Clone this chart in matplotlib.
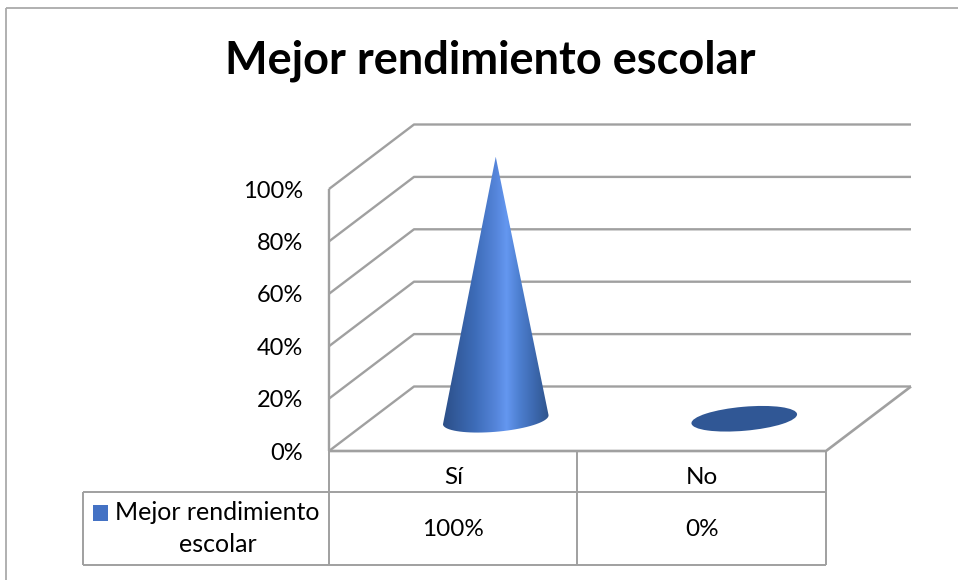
import matplotlib
matplotlib.use("Agg")
import matplotlib.pyplot as plt
import numpy as np
from matplotlib.colors import LinearSegmentedColormap
from matplotlib.patches import Ellipse, Polygon

title = "Mejor rendimiento escolar"
series_name = "Mejor rendimiento\nescolar"
categories = ["Sí", "No"]
values = [100, 0]
value_labels = ["100%", "0%"]
ticks = [0, 20, 40, 60, 80, 100]
tick_labels = ["0%", "20%", "40%", "60%", "80%", "100%"]

grid_color = "#a0a0a0"
plt.rcParams["font.family"] = ["Lato", "DejaVu Sans"]

fig = plt.figure(figsize=(9.58, 5.8), dpi=100)
ax = fig.add_axes([0, 0, 1, 1])
ax.set_xlim(0, 958)
ax.set_ylim(580, 0)
ax.axis("off")

# plot box in pixels, front wall and how far the floor goes back
x0, x1 = 329, 826
y0 = 451
px_per_pct = 2.62
dx, dy = 85, -64.5


def proj(cat, val, depth=0.0):
    x = x0 + (x1 - x0) / len(categories) * cat + dx * depth
    y = y0 - val * px_per_pct + dy * depth
    return x, y


def line(xs, ys, lw=1.7, color=grid_color):
    ax.plot(xs, ys, color=color, lw=lw, solid_capstyle="butt")


# outer frame
line([6, 6], [580, 8], lw=1.3, color="#aaaaaa")
line([6, 958], [8, 8], lw=1.3, color="#aaaaaa")

# walls
for t, lab in zip(ticks, tick_labels):
    a = proj(0, t)
    b = proj(0, t, 1)
    c = proj(len(categories), t, 1)
    line([a[0], b[0], c[0]], [a[1], b[1], c[1]])
    ax.text(303, a[1] + 2, lab, ha="right", va="center", fontsize=17, color="black")
line([x0, x0], [proj(0, 0)[1], proj(0, 100)[1]])

# floor
a = proj(0, 0)
b = proj(2, 0)
c = proj(2, 0, 1)
line([a[0], b[0], c[0]], [a[1], b[1], c[1]], lw=1.9)

# cones
cone_cmap = LinearSegmentedColormap.from_list(
    "cone",
    [(0, "#2c4f88"), (0.3, "#3d6cb8"), (0.5, "#5585da"), (0.6, "#6497f0"),
     (0.72, "#4d7fd0"), (0.86, "#3d69b0"), (1, "#2f548c")],
)
for i, v in enumerate(values):
    cx, cy = proj(i + 0.5, 0, 0.5)
    tilt = -5
    rx, ry = 53, 12
    if v > 0:
        tipx, tipy = proj(i + 0.5, v, 0.5)
        th = np.radians(np.linspace(0, 180, 40))
        ex = rx * np.cos(th)
        ey = ry * np.sin(th)
        rot = np.radians(tilt)
        px = cx + ex * np.cos(rot) - ey * np.sin(rot)
        py = cy + 1 + ex * np.sin(rot) + ey * np.cos(rot)
        outline = Polygon(np.r_[[[tipx, tipy]], np.c_[px, py]], closed=True, fc="none", ec="none")
        ax.add_patch(outline)
        grad = np.linspace(0, 1, 256).reshape(1, -1)
        im = ax.imshow(grad, cmap=cone_cmap, aspect="auto",
                       extent=(cx - rx, cx + rx, cy + ry + 2, tipy), zorder=3)
        im.set_clip_path(outline)
        ax.set_xlim(0, 958)
        ax.set_ylim(580, 0)
    else:
        ax.add_patch(Ellipse((cx, cy), 2 * rx, 2 * ry, angle=tilt, fc="#305795", ec="none", zorder=3))

# data table under the plot
row0, row1, row2 = 451, 492, 565
tbl_left = 83
cell = (x1 - x0) / len(categories)
line([x0, x0], [row0, row2], lw=1.4)
line([x0 + cell, x0 + cell], [row0, row2], lw=1.4)
line([x1, x1], [row0, row2], lw=1.4)
line([tbl_left, x1], [row1, row1], lw=1.4)
line([tbl_left, x1], [row2, row2], lw=1.4)
line([tbl_left, tbl_left], [row1, row2], lw=1.4)
for i, (cat, lab) in enumerate(zip(categories, value_labels)):
    xc = x0 + cell * (i + 0.5)
    ax.text(xc, 477, cat, ha="center", va="center", fontsize=17.5, color="black")
    ax.text(xc, 530, lab, ha="center", va="center", fontsize=17.5, color="black")

# legend key and series name
ax.add_patch(Polygon([(93, 505), (108, 505), (108, 521), (93, 521)], closed=True, fc="#4472c4", ec="none"))
ax.text(217.5, 512, series_name.split("\n")[0], ha="center", va="center", fontsize=18, color="black")
ax.text(217.5, 545, series_name.split("\n")[1], ha="center", va="center", fontsize=18, color="black")

ax.text(490, 61, title, ha="center", va="center", fontsize=32.5, fontweight="bold", color="black")

fig.savefig("out.png", dpi=100)
